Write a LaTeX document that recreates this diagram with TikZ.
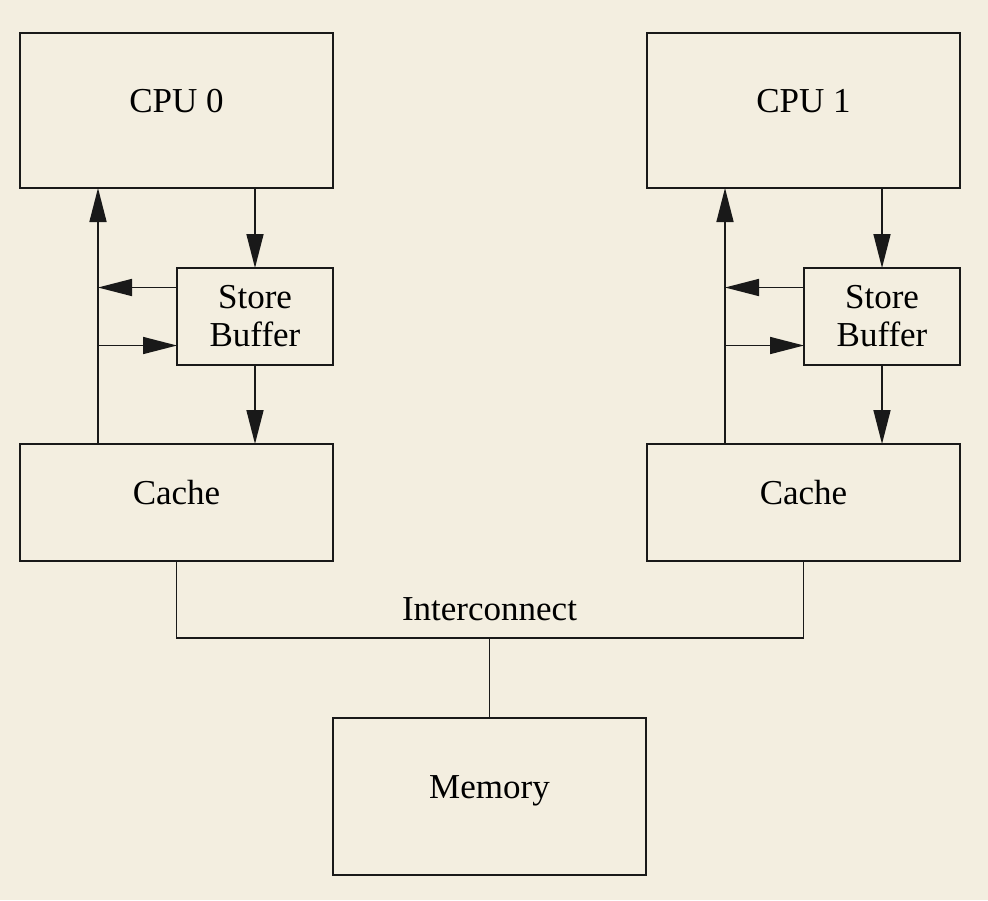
\documentclass[tikz,border=0pt]{standalone}
\usepackage{fontspec}
\setmainfont{Liberation Serif}
\usepackage{tikz}
\usetikzlibrary{
  arrows.meta,
  positioning,
  backgrounds
}
\definecolor{paper}{RGB}{243,238,224}
\definecolor{ink}{RGB}{25,25,25}

\begin{document}
\begin{tikzpicture}[
  base/.style={rectangle,draw=ink,line width=0.8pt,minimum width=156.5pt,align=center,
    font=\fontsize{17.5}{19}\selectfont,inner sep=0pt,outer sep=0pt},
  box/.style={base,text height=12pt,text depth=9.8pt},
  sbox/.style={base,minimum width=78pt,minimum height=48.5pt},
  a/.style={-{Triangle[length=17pt,width=8.5pt]},line width=0.8pt,draw=ink},
  l/.style={line width=0.8pt,draw=ink}
]
\node[box,minimum height=77.5pt] (cpu0) {CPU 0};
\node[box,minimum height=77.5pt,right=157pt of cpu0] (cpu1) {CPU 1};
\node[sbox,below=40pt of cpu0.south east,anchor=north east] (sb0) {Store\\Buffer};
\node[sbox,below=40pt of cpu1.south east,anchor=north east] (sb1) {Store\\Buffer};
\node[box,minimum height=58.5pt,below=39.5pt of sb0.south east,anchor=north east] (cache0) {Cache};
\node[box,minimum height=58.5pt,below=39.5pt of sb1.south east,anchor=north east] (cache1) {Cache};
\node[box,minimum height=78.5pt,below=78.5pt of cache0.south east,anchor=north west] (mem) {Memory};
% bus and side paths
\coordinate[below=38.5pt of cache0.south] (bus);
\coordinate (up0) at ([xshift=39pt]cache0.north west);
\coordinate (up1) at ([xshift=39pt]cache1.north west);
\coordinate (sb0o) at ([yshift=14.5pt]sb0.west);
\coordinate (sb0i) at ([yshift=-14.5pt]sb0.west);
\coordinate (sb1o) at ([yshift=14.5pt]sb1.west);
\coordinate (sb1i) at ([yshift=-14.5pt]sb1.west);
% CPU 0 side
\draw[a] (cpu0.south -| sb0) -- (sb0.north);
\draw[a] (sb0.south) -- (sb0.south |- cache0.north);
\draw[a] (up0) -- (up0 |- cpu0.south);
\draw[a] (sb0o) -- (sb0o -| up0);
\draw[a] (sb0i -| up0) -- (sb0i);
% CPU 1 side
\draw[a] (cpu1.south -| sb1) -- (sb1.north);
\draw[a] (sb1.south) -- (sb1.south |- cache1.north);
\draw[a] (up1) -- (up1 |- cpu1.south);
\draw[a] (sb1o) -- (sb1o -| up1);
\draw[a] (sb1i -| up1) -- (sb1i);
% interconnect
\draw[l] (cache0.south) -- (bus) -| (cache1.south);
\draw[l] (mem.north) -- (mem.north |- bus)
  node[above=8pt,font=\fontsize{17.5}{19}\selectfont,inner sep=0pt] (ic) {Interconnect};
\begin{scope}[on background layer]
\fill[paper] ([shift={(-10pt,16.5pt)}]cpu0.north west) rectangle ++(494pt,-450pt);
\end{scope}
\end{tikzpicture}
\end{document}
